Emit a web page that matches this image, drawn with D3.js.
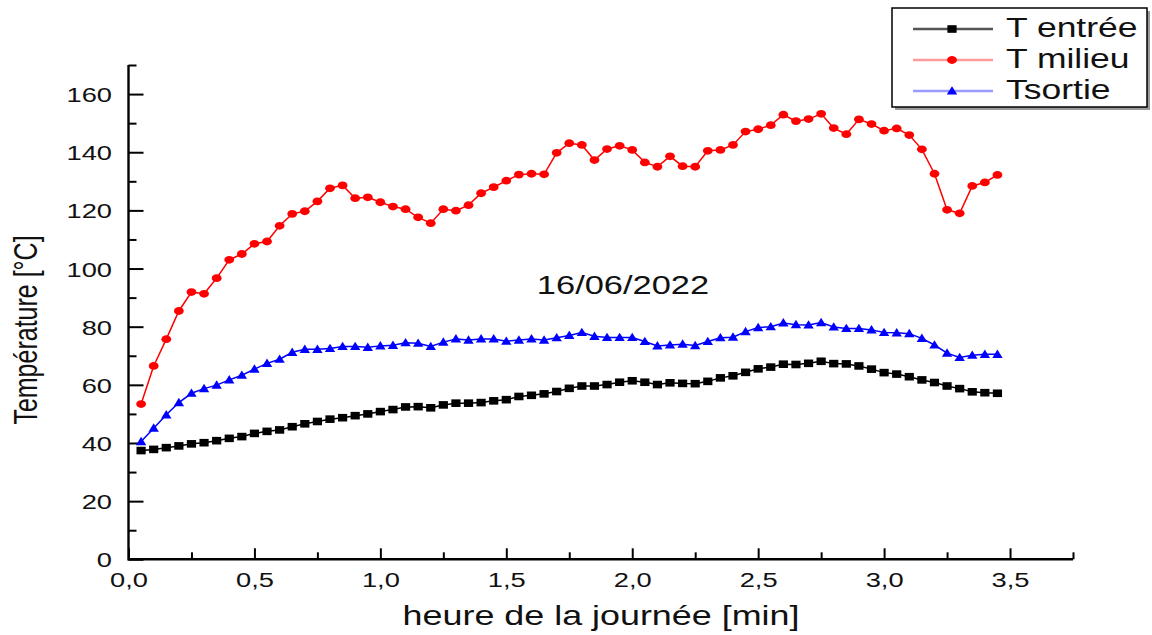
<!DOCTYPE html>
<html>
<head>
<meta charset="utf-8">
<script src="https://cdn.jsdelivr.net/npm/d3@7"></script>
<style>
  html, body { margin: 0; padding: 0; background: #fff; }
  svg { display: block; }
  text { font-family: "Liberation Sans", Arial, sans-serif; fill: #111; }
</style>
</head>
<body>
<svg id="chart" width="1152" height="635"></svg>
<script>
// ---- data ----
const times = [0.05,0.10,0.15,0.20,0.25,0.30,0.35,0.40,0.45,0.50,0.55,0.60,0.65,0.70,0.75,0.80,0.85,0.90,0.95,1.00,
  1.05,1.10,1.15,1.20,1.25,1.30,1.35,1.40,1.45,1.50,1.55,1.60,1.65,1.70,1.75,1.80,1.85,1.90,1.95,2.00,
  2.05,2.10,2.15,2.20,2.25,2.30,2.35,2.40,2.45,2.50,2.55,2.60,2.65,2.70,2.75,2.80,2.85,2.90,2.95,3.00,
  3.05,3.10,3.15,3.20,3.25,3.30,3.35,3.40,3.45];

const tEntree = [37.4,37.8,38.4,39.0,39.7,40.1,40.8,41.6,42.2,43.3,44.0,44.5,45.6,46.6,47.4,48.2,48.7,49.4,50.0,50.8,
  51.5,52.4,52.5,52.1,53.1,53.7,53.7,53.9,54.5,54.9,56.0,56.4,56.9,57.7,58.8,59.6,59.6,60.1,60.9,61.4,
  60.9,60.1,60.7,60.5,60.4,61.2,62.4,63.1,64.3,65.5,66.1,67.1,67.0,67.4,68.1,67.3,67.2,66.5,65.4,64.2,
  63.7,62.8,61.7,60.8,59.6,58.7,57.6,57.3,57.1];

const tMilieu = [53.4,66.5,75.7,85.4,91.9,91.3,96.7,103.0,105.0,108.5,109.3,114.7,118.8,119.7,123.1,127.6,128.6,124.2,124.5,122.8,
  121.3,120.4,117.6,115.6,120.4,119.9,121.8,125.9,128.0,130.2,132.3,132.6,132.4,139.8,143.1,142.5,137.3,141.1,142.2,140.8,
  136.5,135.0,138.6,135.2,135.0,140.5,140.8,142.5,147.1,147.9,149.3,152.9,150.7,151.4,153.2,148.3,146.2,151.3,149.7,147.4,
  148.2,145.9,141.0,132.6,120.2,119.0,128.4,129.6,132.2];

const tSortie = [40.5,45.1,49.7,53.9,57.1,58.7,59.9,61.7,63.3,65.4,67.4,68.8,71.2,72.2,72.2,72.5,73.2,73.2,72.9,73.4,
  73.6,74.5,74.3,73.2,74.7,75.8,75.4,75.8,75.8,75.0,75.4,75.8,75.4,76.2,77.0,78.0,76.7,76.3,76.3,76.3,
  74.9,73.4,73.7,74.0,73.5,74.9,76.2,76.4,78.3,79.7,80.0,81.3,80.7,80.6,81.4,79.9,79.4,79.4,78.9,78.0,
  77.9,77.6,76.0,73.7,70.9,69.4,70.2,70.5,70.5];

const seriesNames = ["T entrée", "T milieu", "Tsortie"];
const xMajorTicks = [0, 0.5, 1.0, 1.5, 2.0, 2.5, 3.0, 3.5];
const xMinorTicks = [0.25, 0.75, 1.25, 1.75, 2.25, 2.75, 3.25, 3.75];
const yMajorTicks = [0, 20, 40, 60, 80, 100, 120, 140, 160];
const yMinorTicks = [10, 30, 50, 70, 90, 110, 130, 150, 170];
const xTitle = "heure de la journée [min]";
const yTitle = "Température [°C]";
const annotation = "16/06/2022";

// ---- layout / style ----
const SX = 1.3; // horizontal stretch of the original picture's text
const svg = d3.select("#chart");
const x = d3.scaleLinear().domain([0, 3.75]).range([128.5, 1073]);
const y = d3.scaleLinear().domain([0, 170]).range([559.3, 65]);

const series = [
  { name: seriesNames[0], values: tEntree, color: "#000000", legendLine: "#555555", marker: "square" },
  { name: seriesNames[1], values: tMilieu, color: "#ff0000", legendLine: "#ff9a9a", marker: "circle" },
  { name: seriesNames[2], values: tSortie, color: "#0000ff", legendLine: "#9a9aff", marker: "triangle" }
];

function drawMarker(sel, kind, color) {
  if (kind === "square") {
    sel.append("rect").attr("x", -4.6).attr("y", -3.8).attr("width", 9.2).attr("height", 7.6).attr("fill", color);
  } else if (kind === "circle") {
    sel.append("ellipse").attr("rx", 4.9).attr("ry", 3.9).attr("fill", color);
  } else {
    sel.append("path").attr("d", "M0,-4.8L5.2,3.6L-5.2,3.6Z").attr("fill", color);
  }
}

// ---- axes ----
const fmt = d => d3.format(".1f")(d).replace(".", ",");

const xAxisG = svg.append("g").attr("transform", `translate(0,${y(0)})`);
xAxisG.call(d3.axisBottom(x).tickValues(xMajorTicks).tickFormat(fmt).tickSizeInner(-11).tickSizeOuter(0).tickPadding(0));
xAxisG.call(g => g.select(".domain").remove());
xAxisG.selectAll(".tick line").attr("stroke", "#000").attr("stroke-width", 2);
xAxisG.selectAll(".tick text")
  .attr("y", 13).attr("dy", "0.71em").attr("font-size", 21).attr("fill", "#111")
  .attr("transform", `scale(${SX},1)`);

const xMinorG = svg.append("g").attr("transform", `translate(0,${y(0)})`);
xMinorG.call(d3.axisBottom(x).tickValues(xMinorTicks).tickFormat("").tickSizeInner(-7).tickSizeOuter(0));
xMinorG.call(g => g.select(".domain").remove());
xMinorG.selectAll(".tick line").attr("stroke", "#000").attr("stroke-width", 2);

const yAxisG = svg.append("g").attr("transform", `translate(${x(0)},0)`);
yAxisG.call(d3.axisLeft(y).tickValues(yMajorTicks).tickFormat(d3.format("d")).tickSizeInner(-15).tickSizeOuter(0).tickPadding(0));
yAxisG.call(g => g.select(".domain").remove());
yAxisG.selectAll(".tick line").attr("stroke", "#000").attr("stroke-width", 2);
yAxisG.selectAll(".tick text")
  .attr("x", -16.5 / SX).attr("dy", "0.36em").attr("font-size", 21).attr("fill", "#111")
  .attr("transform", `scale(${SX},1)`);

const yMinorG = svg.append("g").attr("transform", `translate(${x(0)},0)`);
yMinorG.call(d3.axisLeft(y).tickValues(yMinorTicks).tickFormat("").tickSizeInner(-8).tickSizeOuter(0));
yMinorG.call(g => g.select(".domain").remove());
yMinorG.selectAll(".tick line").attr("stroke", "#000").attr("stroke-width", 2);

// axis lines
svg.append("line").attr("x1", x(0)).attr("x2", x(3.75)).attr("y1", y(0)).attr("y2", y(0))
  .attr("stroke", "#000").attr("stroke-width", 2.4);
svg.append("line").attr("x1", x(0)).attr("x2", x(0)).attr("y1", y(0) + 1.2).attr("y2", y(170))
  .attr("stroke", "#000").attr("stroke-width", 2.4);

// axis titles
svg.append("text")
  .attr("transform", `translate(601,625) scale(${SX},1)`)
  .attr("text-anchor", "middle").attr("font-size", 27.6).text(xTitle);

svg.append("text")
  .attr("transform", `translate(37,330) rotate(-90) scale(1,${SX})`)
  .attr("text-anchor", "middle").attr("font-size", 25).text(yTitle);

// annotation
svg.append("text")
  .attr("transform", `translate(623,294) scale(${SX},1)`)
  .attr("text-anchor", "middle").attr("font-size", 26.5).text(annotation);

// ---- series ----
const plot = svg.append("g");
series.forEach(s => {
  const pts = times.map((t, i) => [t, s.values[i]]);
  plot.append("path")
    .datum(pts)
    .attr("fill", "none")
    .attr("stroke", s.color)
    .attr("stroke-width", 1.5)
    .attr("d", d3.line().x(d => x(d[0])).y(d => y(d[1])));
  const mk = plot.append("g").selectAll("g").data(pts).join("g")
    .attr("transform", d => `translate(${x(d[0])},${y(d[1])})`);
  mk.each(function() { drawMarker(d3.select(this), s.marker, s.color); });
});

// ---- legend ----
const lg = svg.append("g");
lg.append("rect").attr("x", 895).attr("y", 11).attr("width", 255).attr("height", 99).attr("fill", "#999");
lg.append("rect").attr("x", 892).attr("y", 8).attr("width", 255).attr("height", 99)
  .attr("fill", "#fff").attr("stroke", "#000").attr("stroke-width", 1.5);
series.forEach((s, i) => {
  const cy = 29 + i * 31;
  lg.append("line").attr("x1", 913).attr("x2", 993).attr("y1", cy).attr("y2", cy)
    .attr("stroke", s.legendLine).attr("stroke-width", 2.5);
  const m = lg.append("g").attr("transform", `translate(952,${cy})`);
  drawMarker(m, s.marker, s.color);
  lg.append("text")
    .attr("transform", `translate(1006,${cy + 8}) scale(${SX},1)`)
    .attr("font-size", 27.3).text(s.name);
});
</script>
</body>
</html>
